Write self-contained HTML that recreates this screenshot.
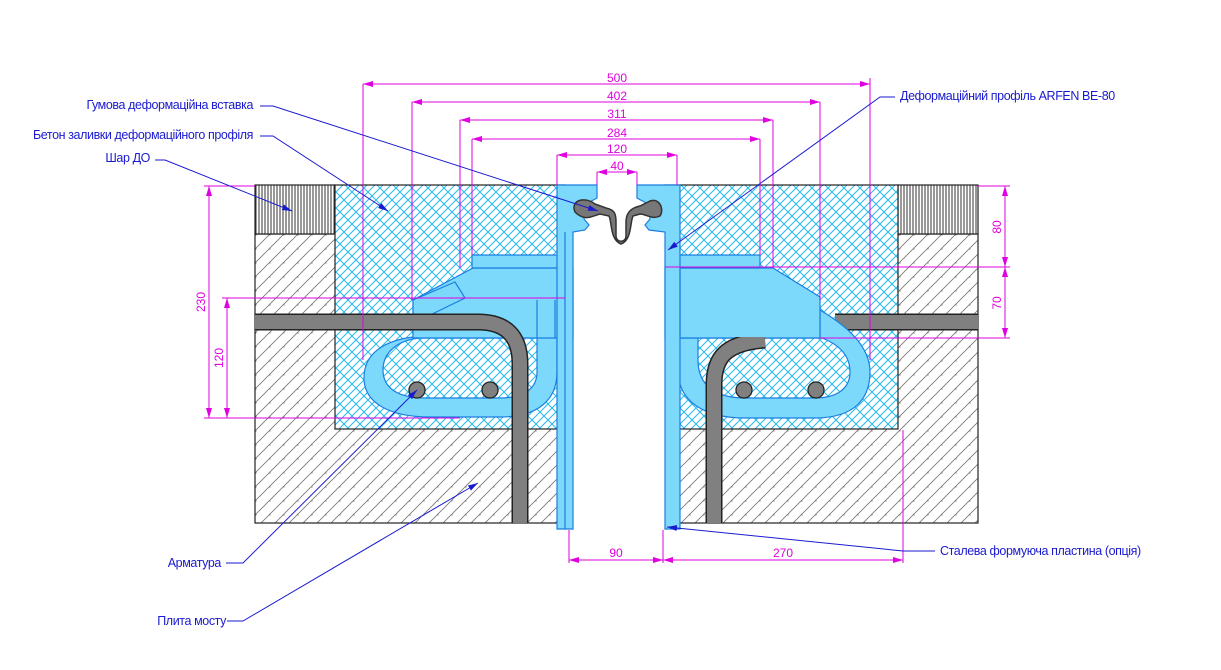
<!DOCTYPE html>
<html><head><meta charset="utf-8"><style>
html,body{margin:0;padding:0;background:#fff;}
svg{display:block;}
text{font-family:"Liberation Sans",sans-serif;}
.lb{fill:#1a1ad0;font-size:12.5px;letter-spacing:-0.4px;}
.dm{fill:#e000e0;font-size:12px;}
</style></head><body>
<svg width="1221" height="670" viewBox="0 0 1221 670" xmlns="http://www.w3.org/2000/svg">
<defs>
<pattern id="cyan" width="16" height="16" patternUnits="userSpaceOnUse">
<rect width="16" height="16" fill="#fff"/>
<path d="M-4,4 L4,-4 M0,16 L16,0 M12,20 L20,12 M-4,12 L4,20 M0,0 L16,16 M12,-4 L20,4" stroke="#27b8f0" stroke-width="1"/>
<path d="M-4,12 L12,-4 M4,20 L20,4" stroke="#27b8f0" stroke-width="1"/>
</pattern>
<pattern id="gray" width="14" height="14" patternUnits="userSpaceOnUse">
<rect width="14" height="14" fill="#fff"/>
<path d="M-2,16 L16,-2 M-2,2 L2,-2 M12,16 L16,12" stroke="#777" stroke-width="0.8"/>
<circle cx="4" cy="11" r="0.6" fill="#777"/>
</pattern>
<pattern id="vert" width="3" height="10" patternUnits="userSpaceOnUse">
<rect width="3" height="10" fill="#fff"/><line x1="1" y1="0" x2="1" y2="10" stroke="#333" stroke-width="1"/>
</pattern>
<marker id="ar" markerWidth="10" markerHeight="6" refX="10" refY="3" orient="auto" markerUnits="userSpaceOnUse"><path d="M0,0 L10,3 L0,6 Z" fill="#1a1ad0"/></marker>
<marker id="ma" markerWidth="10" markerHeight="6" refX="10" refY="3" orient="auto" markerUnits="userSpaceOnUse"><path d="M0,0 L10,3 L0,6 Z" fill="#e000e0"/></marker>
<marker id="mb" markerWidth="10" markerHeight="6" refX="0" refY="3" orient="auto" markerUnits="userSpaceOnUse"><path d="M10,0 L0,3 L10,6 Z" fill="#e000e0"/></marker>
</defs>

<!-- slabs -->
<rect x="255" y="234" width="310" height="289" fill="url(#gray)" stroke="#222" stroke-width="1.2"/>
<rect x="665" y="234" width="313" height="289" fill="url(#gray)" stroke="#222" stroke-width="1.2"/>
<rect x="255" y="185" width="80" height="49" fill="url(#vert)" stroke="#222" stroke-width="1.2"/>
<rect x="898" y="185" width="80" height="49" fill="url(#vert)" stroke="#222" stroke-width="1.2"/>
<rect x="335" y="185" width="230" height="244" fill="url(#cyan)" stroke="#222" stroke-width="1.2"/>
<rect x="665" y="185" width="233" height="244" fill="url(#cyan)" stroke="#222" stroke-width="1.2"/>
<rect x="573" y="185" width="92" height="346" fill="#fff"/>

<!-- right horizontal rebar (behind loop) -->
<path d="M835,322 L978,322" stroke="#222" stroke-width="17"/>
<path d="M835,322 L978,322" stroke="#808080" stroke-width="14"/>

<g fill="#7dd9fc" stroke="#1a7fe0" stroke-width="1.2">
<!-- left profile -->
<path d="M413,337 C375,342 364,360 364,378 C364,402 388,417 430,417 L500,417 C538,417 557,400 557,372 L557,300 L413,300 Z M383,370 C383,352 398,340 420,338 L537,338 L537,372 C537,390 522,398 500,398 L425,398 C398,398 383,388 383,370 Z" fill-rule="evenodd"/>
<path d="M473,268 L573,268 L573,338 L413,338 L413,300 Z"/>
<path d="M472,255 L565,255 L565,268 L472,268 Z"/>
<path d="M557,185 L597,185 L597,198 L586,204 L584,219 L589,225 L585,230 L573,232 L573,529 L557,529 Z"/>
<line x1="565" y1="232" x2="565" y2="529"/>
<path d="M413,300 L455,282 L465,298 L420,320" fill="none"/>
<line x1="537" y1="300" x2="537" y2="338"/><line x1="555" y1="300" x2="555" y2="338"/>
<!-- right profile -->
<path d="M678,338 L678,370 C678,402 705,418 745,418 L815,418 C855,418 870,398 870,372 C870,345 845,325 820,310 L820,338 Z M698,338 L822,338 C840,345 850,356 850,372 C850,390 835,398 815,398 L745,398 C715,398 698,385 698,360 Z" fill-rule="evenodd"/>
<path d="M665,268 L773,268 L820,297 L820,338 L665,338 Z"/>
<path d="M672,255 L760,255 L760,268 L672,268 Z"/>
<path d="M680,185 L637,185 L637,198 L648,204 L650,219 L645,225 L649,230 L665,232 L665,529 L680,529 Z"/>
<line x1="680" y1="268" x2="680" y2="338"/>
</g>

<!-- rebar on top -->
<path d="M255,322 L478,322 Q520,322 520,364 L520,523" fill="none" stroke="#222" stroke-width="17"/>
<path d="M255,322 L478,322 Q520,322 520,364 L520,523" fill="none" stroke="#808080" stroke-width="14"/>
<path d="M765,340 C725,343 714,358 714,385 L714,523" fill="none" stroke="#222" stroke-width="17"/>
<path d="M765,340 C725,343 714,358 714,385 L714,523" fill="none" stroke="#808080" stroke-width="14"/>
<rect x="700" y="320" width="70" height="17" fill="#7dd9fc"/>

<!-- rubber insert -->
<path d="M575,212 C570,200 585,196 595,204 L606,208 C615,210 616,214 616,222 L616,236 C616,243 626,243 626,236 L626,222 C626,214 630,208 640,206 L648,202 C658,196 665,208 660,216 C652,220 646,214 640,214 L633,216 C630,222 632,240 621,244 C610,240 612,222 609,216 L600,214 C592,216 585,222 575,212 Z" fill="#777" stroke="#333" stroke-width="1.5"/>

<g fill="#808080" stroke="#222" stroke-width="1.3">
<circle cx="417" cy="390" r="8"/><circle cx="490" cy="390" r="8"/>
<circle cx="744" cy="390" r="8"/><circle cx="816" cy="390" r="8"/>
</g>

<!-- dimensions -->
<g stroke="#e000e0" stroke-width="1" fill="none">
<line x1="363" y1="84" x2="870" y2="84" marker-start="url(#mb)" marker-end="url(#ma)"/>
<line x1="363" y1="84" x2="363" y2="360"/><line x1="870" y1="78" x2="870" y2="360"/>
<line x1="412" y1="102" x2="820" y2="102" marker-start="url(#mb)" marker-end="url(#ma)"/>
<line x1="412" y1="102" x2="412" y2="300"/><line x1="820" y1="102" x2="820" y2="300"/>
<line x1="460" y1="120" x2="773" y2="120" marker-start="url(#mb)" marker-end="url(#ma)"/>
<line x1="460" y1="120" x2="460" y2="268"/><line x1="773" y1="120" x2="773" y2="268"/>
<line x1="472" y1="139" x2="760" y2="139" marker-start="url(#mb)" marker-end="url(#ma)"/>
<line x1="472" y1="139" x2="472" y2="255"/><line x1="760" y1="139" x2="760" y2="255"/>
<line x1="557" y1="155" x2="677" y2="155" marker-start="url(#mb)" marker-end="url(#ma)"/>
<line x1="557" y1="155" x2="557" y2="185"/><line x1="677" y1="155" x2="677" y2="185"/>
<line x1="597" y1="172" x2="637" y2="172" marker-start="url(#mb)" marker-end="url(#ma)"/>
<line x1="597" y1="172" x2="597" y2="185"/><line x1="637" y1="172" x2="637" y2="185"/>
<line x1="209" y1="186" x2="209" y2="418" marker-start="url(#mb)" marker-end="url(#ma)"/>
<line x1="204" y1="186" x2="255" y2="186"/>
<line x1="227" y1="298" x2="227" y2="418" marker-start="url(#mb)" marker-end="url(#ma)"/>
<line x1="222" y1="298" x2="565" y2="298"/>
<line x1="204" y1="418" x2="460" y2="418"/>
<line x1="1005" y1="186" x2="1005" y2="267" marker-start="url(#mb)" marker-end="url(#ma)"/>
<line x1="1005" y1="267" x2="1005" y2="338" marker-start="url(#mb)" marker-end="url(#ma)"/>
<line x1="978" y1="186" x2="1010" y2="186"/>
<line x1="665" y1="267" x2="1010" y2="267"/>
<line x1="820" y1="338" x2="1010" y2="338"/>
<line x1="569" y1="530" x2="569" y2="563"/><line x1="663" y1="530" x2="663" y2="563"/>
<line x1="903" y1="430" x2="903" y2="563"/>
<line x1="569" y1="560" x2="663" y2="560" marker-start="url(#mb)" marker-end="url(#ma)"/>
<line x1="663" y1="560" x2="903" y2="560" marker-start="url(#mb)" marker-end="url(#ma)"/>
</g>
<g class="dm" text-anchor="middle">
<text x="617" y="82">500</text><text x="617" y="100">402</text><text x="617" y="118">311</text>
<text x="617" y="137">284</text><text x="617" y="153">120</text><text x="617" y="170">40</text>
<text x="616" y="557">90</text><text x="783" y="557">270</text>
<text transform="translate(205,302) rotate(-90)">230</text>
<text transform="translate(223,358) rotate(-90)">120</text>
<text transform="translate(1001,227) rotate(-90)">80</text>
<text transform="translate(1001,303) rotate(-90)">70</text>
</g>

<g stroke="#1a1ad0" stroke-width="1" fill="none">
<polyline points="260,106 273,106 598,211" marker-end="url(#ar)"/>
<polyline points="260,136 273,136 388,211" marker-end="url(#ar)"/>
<polyline points="155,160 165,160 292,211" marker-end="url(#ar)"/>
<polyline points="895,97 880,97 668,250" marker-end="url(#ar)"/>
<polyline points="226,563 243,563 417,390" marker-end="url(#ar)"/>
<polyline points="227,621 243,621 478,483" marker-end="url(#ar)"/>
<polyline points="935,551 903,551 667,527" marker-end="url(#ar)"/>
</g>
<g class="lb">
<text x="253" y="109" text-anchor="end">Гумова деформаційна вставка</text>
<text x="253" y="139" text-anchor="end">Бетон заливки деформаційного профіля</text>
<text x="150" y="162" text-anchor="end">Шар ДО</text>
<text x="900" y="100">Деформаційний профіль ARFEN BE-80</text>
<text x="221" y="567" text-anchor="end">Арматура</text>
<text x="226" y="625" text-anchor="end">Плита мосту</text>
<text x="940" y="555">Сталева формуюча пластина (опція)</text>
</g>
</svg>
</body></html>
